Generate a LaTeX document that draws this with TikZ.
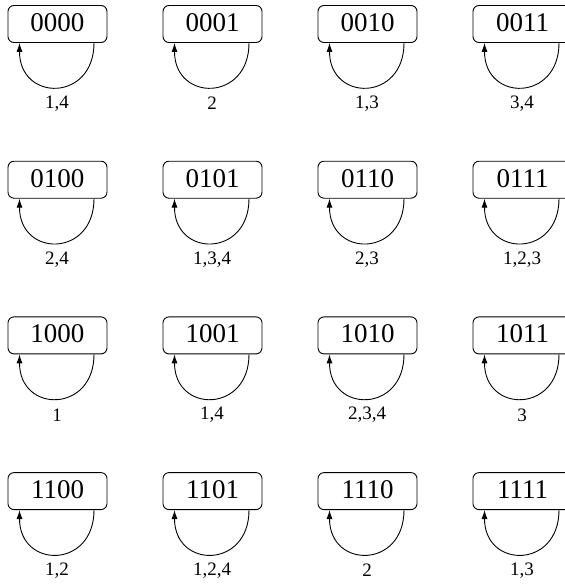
\documentclass[tikz,border=0pt]{standalone}
\usepackage{fontspec}
\setmainfont{Liberation Serif}
\usetikzlibrary{arrows.meta}
\begin{document}
\begin{tikzpicture}[x=1pt,y=-1pt,
  state/.style={draw, rounded corners=6pt, minimum width=99pt, minimum height=37pt,
    inner sep=0pt, font=\fontsize{27}{27}\selectfont, text height=19pt, text depth=4pt,
    line width=0.9pt},
  selfloop/.style={-{Latex[length=9pt,width=6pt]}, line width=0.9pt},
  lbl/.style={font=\fontsize{19}{19}\selectfont, inner sep=0pt}]
\useasboundingbox (0,0) rectangle (565,584);
\clip (0,0) rectangle (565,584);
\foreach \t/\l [count=\i from 0] in {0000/{1,4},0001/{2},0010/{1,3},0011/{3,4},
  0100/{2,4},0101/{1,3,4},0110/{2,3},0111/{1,2,3},
  1000/{1},1001/{1,4},1010/{2,3,4},1011/{3},
  1100/{1,2},1101/{1,2,4},1110/{2},1111/{1,3}}{
  \pgfmathtruncatemacro{\c}{mod(\i,4)}
  \pgfmathtruncatemacro{\r}{int(\i/4)}
  \pgfmathsetmacro{\cx}{57.5+155*\c}
  \pgfmathsetmacro{\cy}{24+155.7*\r}
  \node[state] (n\t) at (\cx,\cy) {\t};
  \node[lbl] (l\t) at (\cx-0.5,\cy+79.5) {\l};
  \draw[selfloop] ([xshift=36.5pt]n\t.south) .. controls +(0,59) and +(0,59) .. ([xshift=-38pt]n\t.south);
}
\end{tikzpicture}
\end{document}
